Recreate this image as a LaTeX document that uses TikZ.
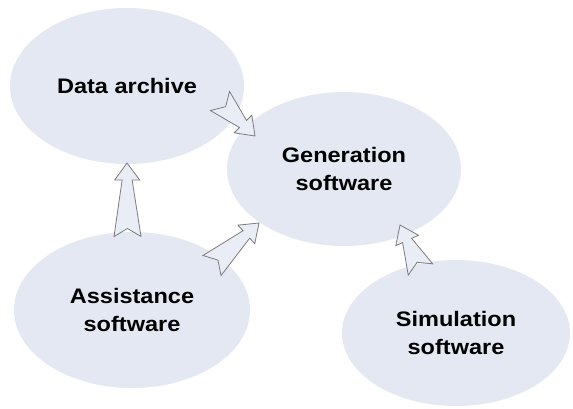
\documentclass[tikz,border=0pt]{standalone}
\usepackage{fontspec}
\newfontfamily\lblfont{Liberation Sans}[FakeStretch=1.12]
\usetikzlibrary{calc,shapes.geometric}
\definecolor{ellfill}{RGB}{227,232,243}
\definecolor{arrfill}{RGB}{233,237,246}
\definecolor{arrline}{RGB}{125,125,125}
\tikzset{
  blob/.style={ellipse, fill=ellfill, draw=none, inner sep=0pt, align=center,
    font=\lblfont\bfseries\fontsize{21}{28}\selectfont},
  blockarrow/.style={draw=arrline, fill=arrfill, line width=0.8pt, line join=miter}
}
\newcommand\notcharrow[2]{%
  \path let \p1=($(#2)-(#1)$), \n1={atan2(\y1,\x1)}, \n2={veclen(\x1,\y1)} in
    \pgfextra{\xdef\arang{\n1}\xdef\arlen{\n2}};
  \begin{scope}[shift={(#1)}, rotate=\arang]
    \draw[blockarrow] (0,13.5) -- (\arlen-17,5) -- (\arlen-17,12.5) -- (\arlen,0)
      -- (\arlen-17,-12.5) -- (\arlen-17,-5) -- (0,-13.5) -- (8,0) -- cycle;
  \end{scope}}
\begin{document}
\begin{tikzpicture}[x=1pt,y=-1pt]
  \fill[white] (0,0) rectangle (573,408);
  \useasboundingbox (0,0) rectangle (573,408);
  \node[blob, minimum width=234pt, minimum height=156pt] (data) at (127,86) {Data archive};
  \node[blob, minimum width=234pt, minimum height=154pt] (gen) at (344,169) {Generation\\software};
  \node[blob, minimum width=236pt, minimum height=156pt] (assist) at (132,310) {Assistance\\software};
  \node[blob, minimum width=228pt, minimum height=146pt] (sim) at (456,333) {Simulation\\software};
  % arrow end points
  \coordinate (a1t) at (220,101);   \coordinate (a1h) at (255,136);
  \coordinate (a2t) at (127.5,236.5); \coordinate (a2h) at (127,163);
  \coordinate (a3t) at (212,265.5); \coordinate (a3h) at (259,223);
  \coordinate (a4t) at (420.5,269.5); \coordinate (a4h) at (400,225);
  \notcharrow{a1t}{a1h}
  \notcharrow{a2t}{a2h}
  \notcharrow{a3t}{a3h}
  \notcharrow{a4t}{a4h}
\end{tikzpicture}
\end{document}
